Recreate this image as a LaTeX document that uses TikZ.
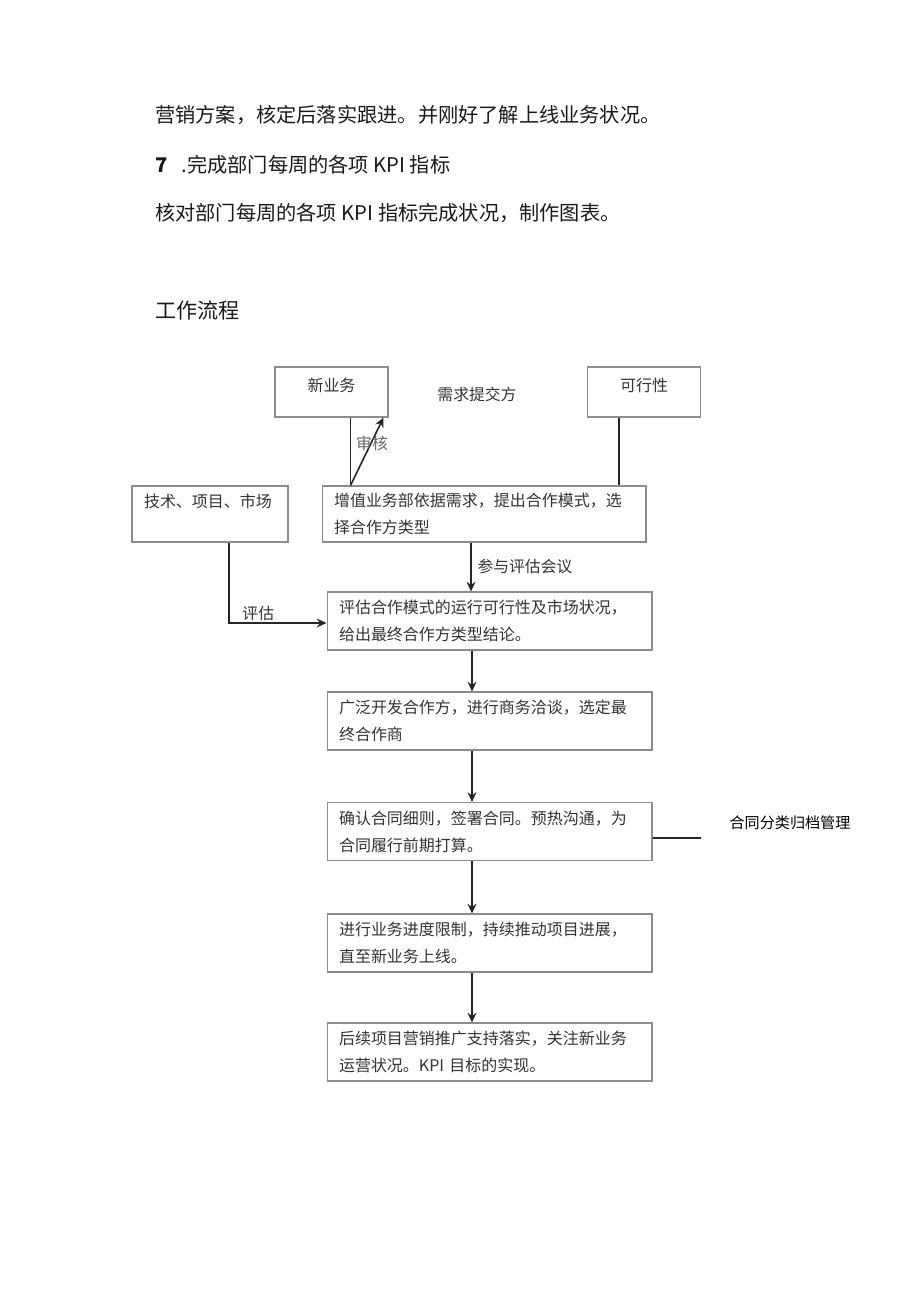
\documentclass[tikz,border=0pt]{standalone}
\usepackage{fontspec}
\newfontfamily\cjk{Noto Sans CJK SC}
\usetikzlibrary{arrows.meta}

\begin{document}
\begin{tikzpicture}[x=0.02cm,y=-0.02cm]

    \tikzset{
      para/.style={
        anchor=west,
        inner sep=0pt,
        text=black!90,
        font=\cjk\fontsize{11.5pt}{14pt}\selectfont,
      },
      stepbox/.style={
        draw=black!45,
        line width=0.6pt,
        inner xsep=0.24cm,
        inner ysep=0pt,
        align=left,
        text=black!80,
        font=\cjk\fontsize{9.1pt}{15.3pt}\selectfont,
      },
      wide/.style={stepbox, text width=6.02cm, minimum height=1.16cm},
      titlebox/.style={stepbox, align=center, minimum width=2.26cm, minimum height=1cm, text depth=0.3cm},
      lbl/.style={inner sep=1pt, text=black!80, font=\cjk\fontsize{9pt}{11pt}\selectfont},
      link/.style={draw=black!85, line width=0.9pt},
      flow/.style={link, -{Stealth[length=5.5pt,width=5pt]}},
    }
    \useasboundingbox (0,0) rectangle (920,1301);

    % text above the chart
    \node[para] (l1) at (155,115) {营销方案，核定后落实跟进。并刚好了解上线业务状况。};
    \node[para] (l2) at (155,165) {\textbf{7}\hspace{0.28cm}.完成部门每周的各项 KPI 指标};
    \node[para] (l3) at (155,213) {核对部门每周的各项 KPI 指标完成状况，制作图表。};
    \node[para, font=\cjk\fontsize{12pt}{14pt}\selectfont] (title) at (155,310) {工作流程};

    % boxes
    \node[titlebox] (nb) at (331.5,392) {新业务};
    \node[lbl] (xq) at (477,394) {需求提交方};
    \node[titlebox] (kx) at (644,392) {可行性};
    \node[stepbox, text width=2.64cm, minimum height=1.12cm] (jsxm) at (210,514) {技术、项目、市场\\\mbox{}};
    \node[stepbox, text width=6.0cm, minimum height=1.12cm] (zz) at (484,514) {增值业务部依据需求，提出合作模式，选\\择合作方类型};
    \node[wide] (pg) at (489.5,621) {评估合作模式的运行可行性及市场状况，\\给出最终合作方类型结论。};
    \node[wide] (kf) at (489.5,721) {广泛开发合作方，进行商务洽谈，选定最\\终合作商};
    \node[wide] (qr) at (489.5,831.5) {确认合同细则，签署合同。预热沟通，为\\合同履行前期打算。};
    \node[wide] (jd) at (489.5,943) {进行业务进度限制，持续推动项目进展，\\直至新业务上线。};
    \node[wide] (hx) at (489.5,1052) {后续项目营销推广支持落实，关注新业务\\运营状况。KPI 目标的实现。};
    \node[lbl, text=black, font=\cjk\fontsize{8.6pt}{10pt}\selectfont] (gd) at (790,823) {合同分类归档管理};
    \coordinate (gdend) at (701,838);

    % connectors
    \draw[link] ([xshift=0.38cm]nb.south) -- ([xshift=0.38cm]nb.south |- zz.north);
    \draw[flow] ([xshift=0.38cm]nb.south |- zz.north) -- ([xshift=-0.1cm]nb.south east);
    \node[lbl, text=black!60] (sh) at (372,443) {审核};
    \draw[link] ([xshift=-0.5cm]kx.south) -- ([xshift=-0.5cm]kx.south |- zz.north);
    \draw[flow] ([xshift=-0.26cm]zz.south) -- ([xshift=-0.26cm]zz.south |- pg.north)
      node[lbl, midway, right, xshift=0.08cm] (cy) {参与评估会议};
    \draw[flow] ([xshift=0.38cm]jsxm.south) |- ([yshift=-0.04cm]pg.west)
      node[lbl, pos=0.65, above] (pgl) {评估};
    \foreach \a/\b in {pg/kf, kf/qr, qr/jd, jd/hx}
      \draw[flow] ([xshift=-0.35cm]\a.south) -- ([xshift=-0.35cm]\a.south |- \b.north);
    \draw[link] ([yshift=-0.13cm]qr.east) -- (gdend);

\end{tikzpicture}
\end{document}
